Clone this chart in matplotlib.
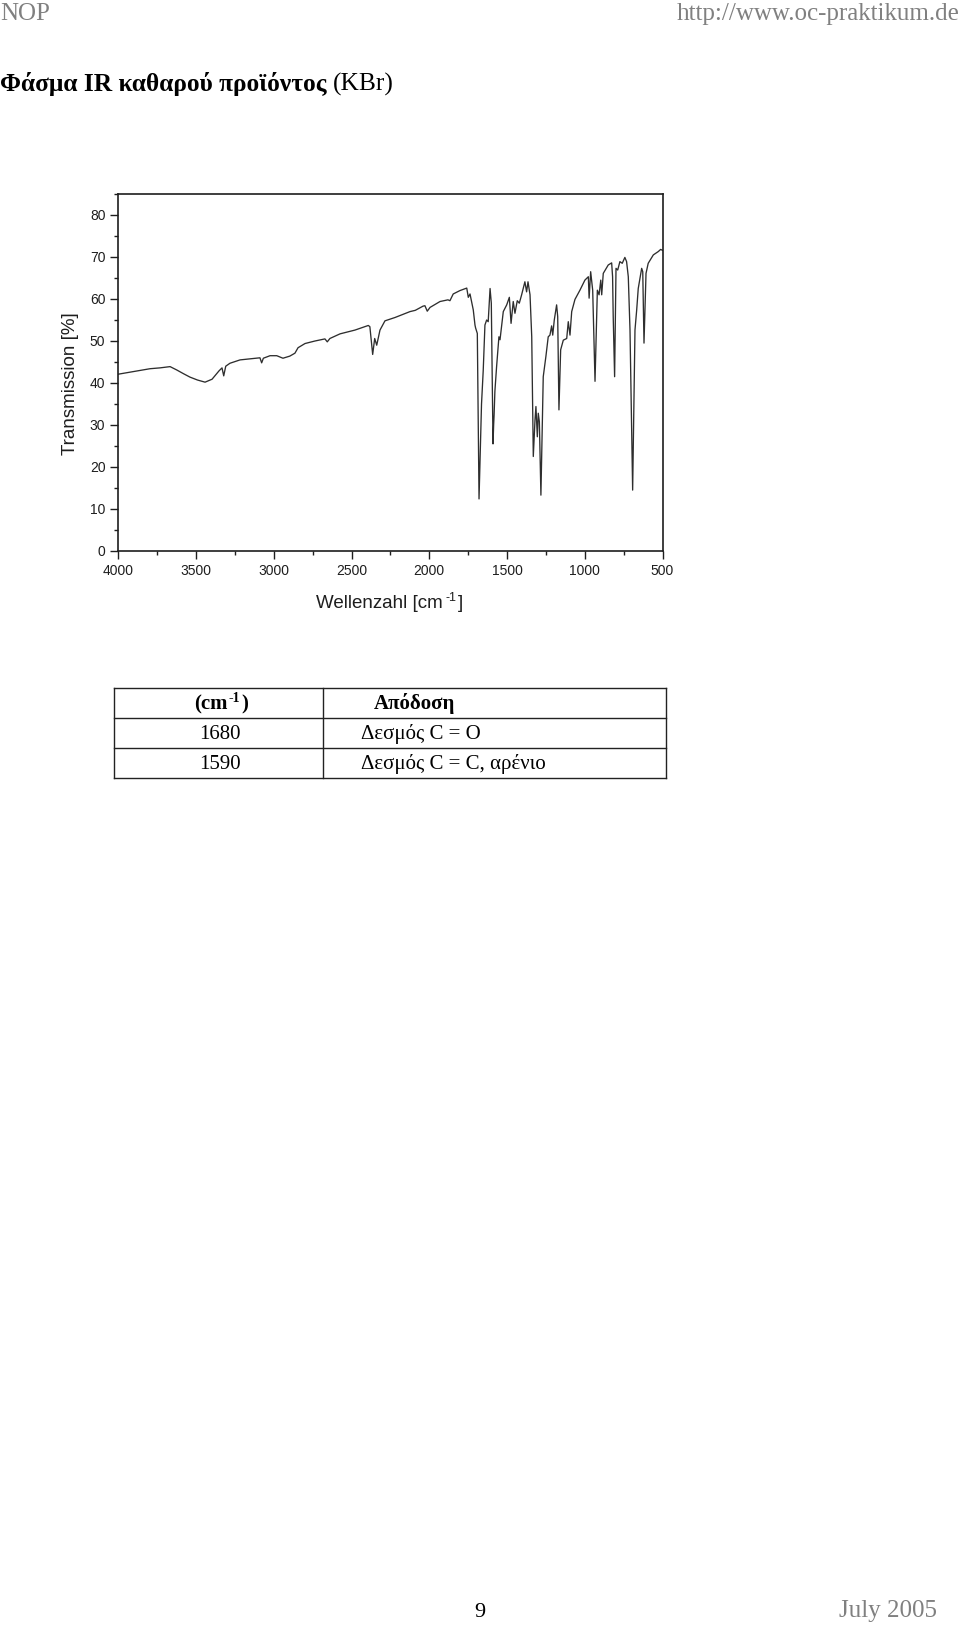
import matplotlib
matplotlib.use("Agg")
import matplotlib.pyplot as plt
from matplotlib.ticker import MultipleLocator

plt.rcParams['font.family'] = ['Liberation Sans', 'DejaVu Sans']

# IR spectrum (wavenumber cm-1, transmission %)
wavenumber = [4000, 3840, 3796, 3732, 3667, 3624, 3580, 3539, 3490, 3442,
              3397, 3352, 3333, 3322, 3309, 3282, 3217, 3089, 3078, 3067,
              3024, 2981, 2941, 2897, 2864, 2844, 2799, 2735, 2671, 2656,
              2639, 2574, 2478, 2392, 2382, 2364, 2351, 2338, 2317, 2285,
              2220, 2124, 2090, 2040, 2028, 2013, 1995, 1931, 1880, 1867,
              1846, 1803, 1759, 1749, 1738, 1717, 1706, 1702, 1691, 1680,
              1664, 1653, 1642, 1631, 1621, 1609, 1601, 1590, 1586, 1583,
              1578, 1567, 1552, 1545, 1534, 1524, 1502, 1485, 1474, 1460,
              1449, 1434, 1421, 1406, 1385, 1374, 1365, 1352, 1341, 1331,
              1320, 1314, 1305, 1299, 1292, 1282, 1267, 1250, 1235, 1224,
              1213, 1206, 1196, 1181, 1174, 1166, 1155, 1138, 1116, 1106,
              1095, 1084, 1063, 1031, 999, 977, 972, 962, 949, 934,
              919, 908, 897, 891, 881, 849, 827, 821, 817, 808,
              799, 788, 774, 759, 742, 731, 720, 709, 692, 677,
              666, 656, 634, 627, 619, 606, 592, 559, 527, 512,
              500]
transmission = [42.1, 43.1, 43.4, 43.6, 43.9, 43.1, 42.2, 41.4, 40.7, 40.2,
                40.9, 42.9, 43.6, 41.7, 44.0, 44.7, 45.5, 46.0, 44.8, 45.9,
                46.5, 46.5, 45.9, 46.4, 47.1, 48.4, 49.4, 50.0, 50.5, 49.8,
                50.6, 51.7, 52.6, 53.7, 53.4, 46.8, 50.6, 49.0, 52.6, 54.8,
                55.6, 57.0, 57.3, 58.3, 58.4, 57.1, 58.0, 59.4, 59.8, 59.6,
                61.2, 62.0, 62.6, 60.4, 61.2, 57.4, 53.8, 53.1, 51.8, 12.4,
                35.0, 43.0, 53.8, 55.0, 54.6, 62.5, 59.0, 25.5, 30.0, 32.5,
                38.0, 43.9, 51.0, 50.3, 53.8, 57.0, 58.6, 60.4, 54.2, 59.4,
                56.6, 59.6, 59.0, 61.0, 64.1, 61.7, 64.1, 61.0, 51.0, 22.5,
                31.2, 34.4, 27.2, 32.8, 30.8, 13.3, 41.5, 46.3, 51.0, 51.4,
                53.6, 51.4, 55.0, 58.6, 55.8, 33.6, 47.9, 50.2, 50.6, 54.6,
                51.4, 57.0, 59.9, 62.1, 64.5, 65.3, 60.2, 66.5, 62.1, 40.4,
                62.1, 61.0, 64.5, 61.0, 66.1, 68.1, 68.6, 65.3, 55.8, 41.5,
                67.3, 66.9, 68.9, 68.5, 69.9, 68.9, 65.3, 52.6, 14.5, 52.6,
                57.4, 62.5, 67.3, 66.5, 49.5, 66.1, 68.5, 70.5, 71.3, 71.8,
                71.6]

table_head = ['(cm', '-1', ')', 'Απόδοση']
band_pos = ['1680', '1590']
band_assign = ['Δεσμός C = O', 'Δεσμός C = C, αρένιο']

W, H = 960, 1627
fig = plt.figure(figsize=(W / 100, H / 100), dpi=100)
renderer = fig.canvas.get_renderer()
serif = ['Liberation Serif', 'DejaVu Serif']


def fx(px):
    return px / W


def fy(py):
    return 1 - py / H


def text_width(s, **kw):
    t = fig.text(0, 0, s, **kw)
    w = t.get_window_extent(renderer=renderer).width
    t.remove()
    return w


def sup_label(xc, ybase, base, sup, tail, size, sup_size, rise, gap=2, **kw):
    # base text + raised small superscript + tail, centred on xc (pixels)
    w1 = text_width(base, fontsize=size, **kw)
    w2 = text_width(sup, fontsize=sup_size, **kw)
    w3 = text_width(tail, fontsize=size, **kw)
    x = xc - (w1 + w2 + w3 + 2 * gap) / 2
    fig.text(fx(x), fy(ybase), base, fontsize=size, va='baseline', ha='left', **kw)
    x += w1 + gap
    fig.text(fx(x), fy(ybase - rise), sup, fontsize=sup_size, va='baseline', ha='left', **kw)
    x += w2 + gap
    fig.text(fx(x), fy(ybase), tail, fontsize=size, va='baseline', ha='left', **kw)


# page header / footer
fig.text(fx(0), fy(20), 'NOP', family=serif, fontsize=18, color='#808080', va='baseline', ha='left')
fig.text(fx(960), fy(20), 'http://www.oc-praktikum.de', family=serif, fontsize=18,
         color='#808080', va='baseline', ha='right')
fig.text(fx(474), fy(1617), '9', family=serif, fontsize=16, color='black', va='baseline', ha='left')
fig.text(fx(937), fy(1617), 'July 2005', family=serif, fontsize=18, color='#808080',
         va='baseline', ha='right')

# title: bold part + regular part
t1 = fig.text(fx(0), fy(91), 'Φάσμα IR καθαρού προϊόντος ', family=serif, fontsize=18.3,
              fontweight='bold', va='baseline', ha='left')
bb = t1.get_window_extent(renderer=renderer)
fig.text(bb.x1 / W, fy(91), '(KBr)', family=serif, fontsize=18.3, va='baseline', ha='left')

# spectrum
ax = fig.add_axes([fx(118.3), fy(551), (662.5 - 118.3) / W, (551 - 194) / H])
ax.plot(wavenumber, transmission, color='#2e2e2e', lw=0.95)
ax.set_xlim(4000, 500)
ax.set_ylim(0, 85)
ax.xaxis.set_major_locator(MultipleLocator(500))
ax.xaxis.set_minor_locator(MultipleLocator(250))
ax.yaxis.set_minor_locator(MultipleLocator(5))
ax.set_yticks(range(0, 81, 10))
ax.tick_params(which='major', direction='out', length=5.8, width=1.0, labelsize=10, pad=3.5,
               colors='#1e1e1e')
ax.tick_params(which='minor', direction='out', length=3, width=1.0, colors='#1e1e1e')
for s in ax.spines.values():
    s.set_linewidth(1.2)
    s.set_color('#1e1e1e')
ax.set_ylabel('Transmission [%]', fontsize=13.5, color='#1e1e1e', va='center')
ax.yaxis.set_label_coords((70.5 - 118.3) / 544.2, (551 - 384) / 357)
sup_label(390, 608, 'Wellenzahl [cm', '-1', ']', 13.5, 9, 7, gap=2, color='#1e1e1e')

# table
tx0, tx1, tcol = 114, 666, 323
ty = [688, 718, 748, 778]
tab = fig.add_axes([0, 0, 1, 1], facecolor='none')
tab.set_xlim(0, W)
tab.set_ylim(H, 0)
tab.axis('off')
for y in ty:
    tab.plot([tx0, tx1], [y, y], color='#222222', lw=1.0)
for x in (tx0, tcol, tx1):
    tab.plot([x, x], [ty[0], ty[-1]], color='#222222', lw=1.0)

row_base = [ty[i + 1] - 9 for i in range(3)]
sup_label(221, row_base[0], table_head[0], table_head[1], table_head[2], 15, 10, 7, gap=1,
          family=serif, fontweight='bold')
tab.text(374, row_base[0], table_head[3], family=serif, fontsize=15, fontweight='bold',
         ha='left', va='baseline')
for i in range(2):
    tab.text(220, row_base[i + 1], band_pos[i], family=serif, fontsize=15, ha='center',
             va='baseline')
    tab.text(361, row_base[i + 1], band_assign[i], family=serif, fontsize=15, ha='left',
             va='baseline')

fig.savefig('out.png', dpi=100)
